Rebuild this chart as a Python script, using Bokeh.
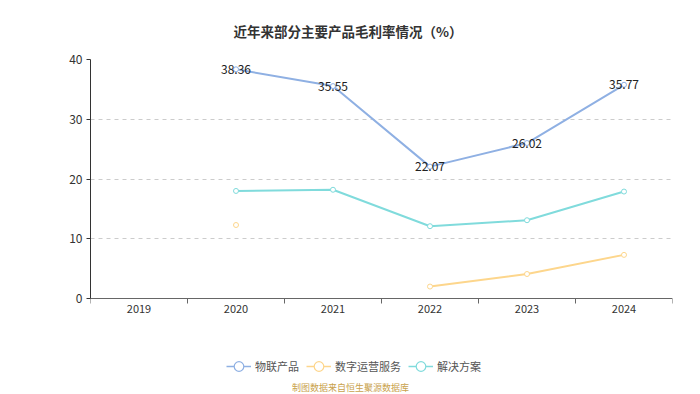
from bokeh.plotting import figure
from bokeh.models import (ColumnDataSource, FixedTicker, Legend, LegendItem, Title, Range1d, Label)
from bokeh.core.properties import value
from bokeh.embed import file_html
from bokeh.resources import INLINE
import numpy as np

years = ["2019", "2020", "2021", "2022", "2023", "2024"]
iot = [np.nan, 38.36, 35.55, 22.07, 26.02, 35.77]
digital = [np.nan, 12.3, np.nan, 2.0, 4.1, 7.3]
solution = [np.nan, 18.0, 18.2, 12.1, 13.1, 17.9]
series_names = ["物联产品", "数字运营服务", "解决方案"]
colors = ["#8fb0e3", "#fdd68c", "#80dbdc"]
y_ticks = [0, 10, 20, 30, 40]

FONT = "Noto Sans CJK SC"
x = list(range(len(years)))

# plot area: value axis 0..40 occupies 239px, frame extends down to hold axis labels + legend
PLOT_H = 239
FRAME_H = 336
y_max = 40
y_min = y_max - FRAME_H * y_max / PLOT_H

p = figure(frame_width=582, frame_height=FRAME_H, output_backend="svg", toolbar_location=None,
           x_range=Range1d(-0.5, len(years) - 0.5), y_range=Range1d(y_min, y_max),
           min_border_left=90, min_border_right=28, min_border_top=58, min_border_bottom=0)
p.outline_line_color = None
p.background_fill_color = "white"

items = []
for vals, name, c in zip([iot, digital, solution], series_names, colors):
    src = ColumnDataSource(dict(x=x, y=vals))
    r1 = p.line("x", "y", source=src, line_color=c, line_width=2)
    r2 = p.scatter("x", "y", source=src, marker="circle", size=5, fill_color="white",
                   line_color=c, line_width=1)
    # legend-only glyphs (never visible in the plot area)
    leg_line = p.line(x=[np.nan], y=[np.nan], line_color=c, line_width=1.5)
    leg_mark = p.scatter(x=[np.nan], y=[np.nan], marker="circle", size=10, fill_color="white",
                         line_color=c, line_width=1.2)
    items.append(LegendItem(label=name, renderers=[leg_line, leg_mark]))

lab = ColumnDataSource(dict(x=x, y=iot, t=["" if np.isnan(v) else f"{v:.2f}" for v in iot]))
p.text("x", "y", text="t", source=lab, text_align="center", text_baseline="middle",
       text_font=value(FONT), text_font_size="12px", text_color="#222222")

# axes
p.xaxis.fixed_location = 0
p.xaxis.ticker = FixedTicker(ticks=x, minor_ticks=[i - 0.5 for i in range(len(years) + 1)])
p.xaxis.major_label_overrides = {i: y for i, y in enumerate(years)}
p.xaxis.major_tick_line_color = None
p.xaxis.major_tick_out = 0
p.xaxis.major_tick_in = 0
p.xaxis.minor_tick_line_color = "#666666"
p.xaxis.minor_tick_out = 5
p.xaxis.minor_tick_in = 0
p.xaxis.axis_line_color = "#666666"
p.xaxis.major_label_text_font = FONT
p.xaxis.major_label_text_font_size = "11px"
p.xaxis.major_label_text_color = "#333333"
p.xaxis.major_label_standoff = 1

p.yaxis.ticker = FixedTicker(ticks=y_ticks)
p.yaxis.bounds = (0, y_max)
p.yaxis.axis_line_color = "#333333"
p.yaxis.major_tick_line_color = "#333333"
p.yaxis.major_tick_out = 4
p.yaxis.major_tick_in = 0
p.yaxis.minor_tick_line_color = None
p.yaxis.major_label_text_font = FONT
p.yaxis.major_label_text_font_size = "12px"
p.yaxis.major_label_text_color = "#333333"
p.yaxis.major_label_standoff = 4

p.xgrid.grid_line_color = None
p.ygrid.grid_line_color = "#cccccc"
p.ygrid.grid_line_dash = "4 4"

legend = Legend(items=items, orientation="horizontal", location=(136, 17),
                label_text_font=FONT, label_text_font_size="11px", label_text_color="#555555",
                glyph_width=25, glyph_height=24, spacing=7, border_line_color=None,
                background_fill_alpha=0, margin=0, padding=0, label_standoff=4)
p.add_layout(legend, "center")

source_note = Label(x=260, y=8, x_units="screen", y_units="screen",
                    text="制图数据来自恒生聚源数据库", text_align="center", text_baseline="middle",
                    text_font=FONT, text_font_size="9px", text_color="#c9a24c")
p.add_layout(source_note)

p.title = Title(text="近年来部分主要产品毛利率情况（%）", align="left", offset=143, text_font=FONT,
                text_font_size="13.5px", text_color="#333333", text_font_style="bold",
                standoff=37)

open("out.html", "w").write(file_html(p, INLINE))
